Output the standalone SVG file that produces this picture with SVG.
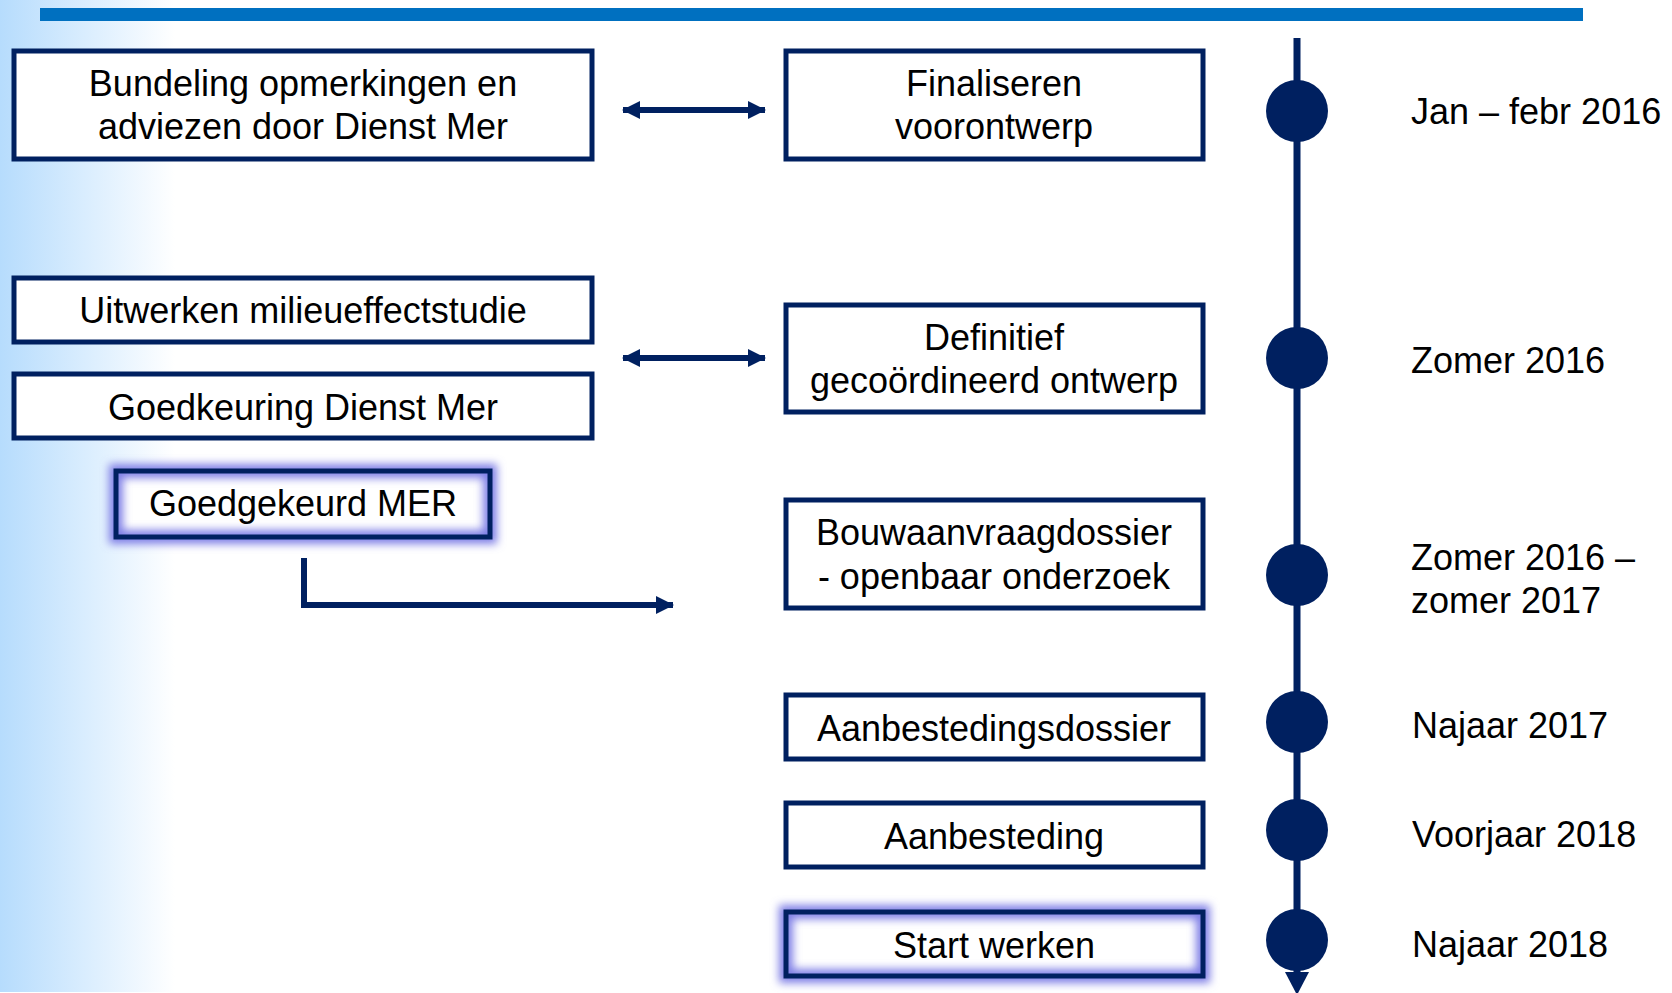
<svg xmlns="http://www.w3.org/2000/svg" width="1672" height="993" viewBox="0 0 1672 993">
<defs>
<linearGradient id="bg" x1="0" y1="0" x2="175" y2="0" gradientUnits="userSpaceOnUse">
<stop offset="0" stop-color="#b6dcfd"/>
<stop offset="1" stop-color="#ffffff"/>
</linearGradient>
<filter id="glow" x="-20%" y="-50%" width="140%" height="200%">
<feGaussianBlur stdDeviation="4"/>
</filter>
<marker id="ah" markerUnits="userSpaceOnUse" markerWidth="20" markerHeight="20" viewBox="0 0 20 20" refX="17" refY="10" orient="auto-start-reverse">
<path d="M0,1 L18,10 L0,19 Z" fill="#002060"/>
</marker>
<style>
.box{fill:#ffffff;stroke:#002060;stroke-width:5}
.gl{fill:none;stroke:#7f7fe6;stroke-width:14;filter:url(#glow)}
.t{font-family:"Liberation Sans",Arial,sans-serif;font-size:36px;fill:#000000;text-anchor:middle}
.d{font-family:"Liberation Sans",Arial,sans-serif;font-size:36px;fill:#000000}
.c{stroke:#002060;stroke-width:6;fill:none}
.dot{fill:#002060}
</style>
</defs>
<rect x="0" y="0" width="1672" height="993" fill="#ffffff"/>
<rect x="0" y="0" width="180" height="992" fill="url(#bg)"/>
<rect x="40" y="8" width="1543" height="13" fill="#0070c0"/>

<g id="timeline">
<line x1="1297" y1="38" x2="1297" y2="976" stroke="#002060" stroke-width="7"/>
<path d="M1285,972 L1309,972 L1297,995 Z" fill="#002060"/>
<circle class="dot" cx="1297" cy="111" r="31"/>
<circle class="dot" cx="1297" cy="358" r="31"/>
<circle class="dot" cx="1297" cy="575" r="31"/>
<circle class="dot" cx="1297" cy="722" r="31"/>
<circle class="dot" cx="1297" cy="830" r="31"/>
<circle class="dot" cx="1297" cy="940" r="31"/>
</g>

<g id="connectors">
<line class="c" x1="623" y1="110" x2="765" y2="110" marker-start="url(#ah)" marker-end="url(#ah)"/>
<line class="c" x1="623" y1="358" x2="765" y2="358" marker-start="url(#ah)" marker-end="url(#ah)"/>
<polyline class="c" points="304,558 304,605 673,605" marker-end="url(#ah)"/>
</g>

<g id="n-bundeling">
<rect class="box" x="14" y="51" width="578" height="108"/>
<text class="t" x="303" y="96">Bundeling opmerkingen en</text>
<text class="t" x="303" y="139">adviezen door Dienst Mer</text>
</g>
<g id="n-finaliseren">
<rect class="box" x="786" y="51" width="417" height="108"/>
<text class="t" x="994" y="96">Finaliseren</text>
<text class="t" x="994" y="139">voorontwerp</text>
</g>
<g id="n-uitwerken">
<rect class="box" x="14" y="278" width="578" height="64"/>
<text class="t" x="303" y="323">Uitwerken milieueffectstudie</text>
</g>
<g id="n-goedkeuring">
<rect class="box" x="14" y="374" width="578" height="64"/>
<text class="t" x="303" y="420">Goedkeuring Dienst Mer</text>
</g>
<g id="n-definitief">
<rect class="box" x="786" y="305" width="417" height="107"/>
<text class="t" x="994" y="350">Definitief</text>
<text class="t" x="994" y="393">gecoördineerd ontwerp</text>
</g>
<g id="n-goedgekeurd">
<rect x="116" y="471" width="374" height="66" fill="#ffffff"/>
<rect class="gl" x="116" y="471" width="374" height="66"/>
<rect class="box" x="116" y="471" width="374" height="66" style="fill:none"/>
<text class="t" x="303" y="516">Goedgekeurd MER</text>
</g>
<g id="n-bouwaanvraag">
<rect class="box" x="786" y="500" width="417" height="108"/>
<text class="t" x="994" y="545">Bouwaanvraagdossier</text>
<text class="t" x="994" y="589">- openbaar onderzoek</text>
</g>
<g id="n-aanbestedingsdossier">
<rect class="box" x="786" y="695" width="417" height="64"/>
<text class="t" x="994" y="741">Aanbestedingsdossier</text>
</g>
<g id="n-aanbesteding">
<rect class="box" x="786" y="803" width="417" height="64"/>
<text class="t" x="994" y="849">Aanbesteding</text>
</g>
<g id="n-start">
<rect x="786" y="912" width="417" height="64" fill="#ffffff"/>
<rect class="gl" x="786" y="912" width="417" height="64"/>
<rect class="box" x="786" y="912" width="417" height="64" style="fill:none"/>
<text class="t" x="994" y="958">Start werken</text>
</g>

<g id="dates">
<text class="d" x="1411" y="124">Jan – febr 2016</text>
<text class="d" x="1411" y="373">Zomer 2016</text>
<text class="d" x="1411" y="570">Zomer 2016 –</text>
<text class="d" x="1411" y="613">zomer 2017</text>
<text class="d" x="1412" y="738">Najaar 2017</text>
<text class="d" x="1412" y="847">Voorjaar 2018</text>
<text class="d" x="1412" y="957">Najaar 2018</text>
</g>
</svg>
